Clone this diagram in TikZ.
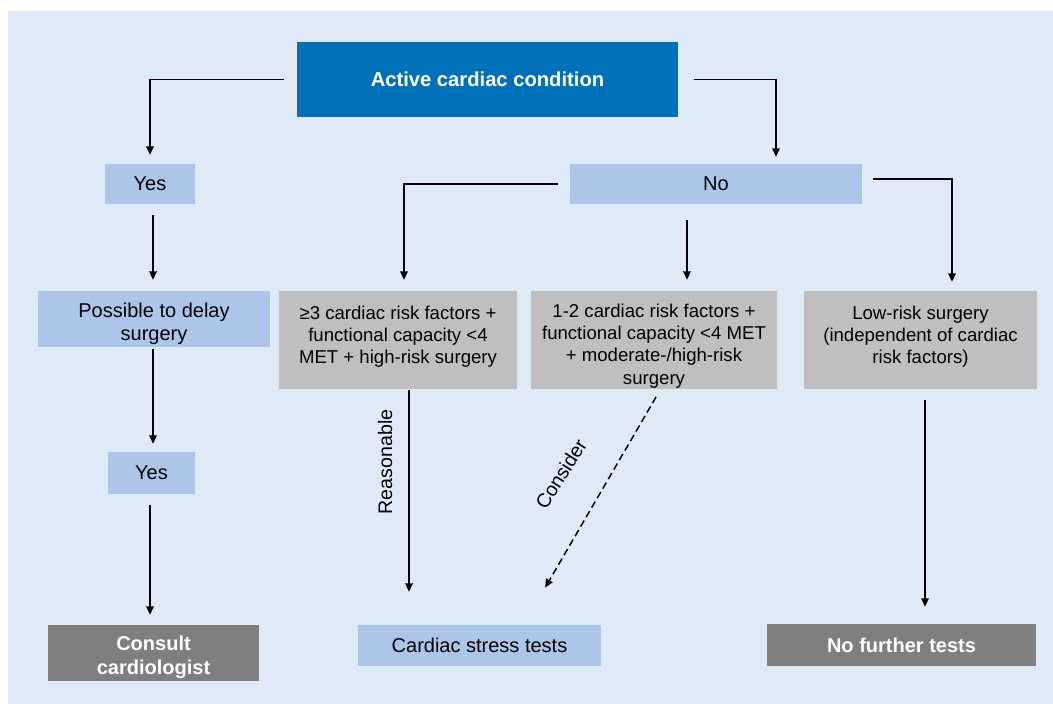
\documentclass[tikz,border=0pt]{standalone}
\usepackage{fontspec}
\setmainfont{Liberation Sans}
\usetikzlibrary{arrows.meta}

\definecolor{panel}{RGB}{222,234,247}
\definecolor{headblue}{RGB}{0,112,184}
\definecolor{paleblue}{RGB}{173,197,233}
\definecolor{midgrey}{RGB}{191,191,191}
\definecolor{darkgrey}{RGB}{127,127,127}

% tall first line: pushes the text of a box a little lower
\newcommand{\firstline}[1]{\rule{0pt}{#1}}

\begin{document}
\begin{tikzpicture}[x=1pt,y=-1pt,
  box/.style={inner sep=0pt, align=center, font=\fontsize{20}{22.5}\selectfont},
  headbox/.style={box, fill=headblue, text=white, font=\fontsize{20.2}{23}\selectfont\bfseries},
  lightbox/.style={box, fill=paleblue},
  greybox/.style={box, fill=midgrey, minimum height=98pt, font=\fontsize{18.6}{22.3}\selectfont},
  endbox/.style={box, fill=darkgrey, text=white, font=\fontsize{20}{24}\selectfont\bfseries},
  lbl/.style={inner sep=0pt, font=\fontsize{19.6}{22.5}\selectfont},
  flow/.style={line width=1.5pt, -{Triangle[length=8.5pt,width=7.5pt]}},
  maybe/.style={flow, dash pattern=on 7pt off 4pt}]

\useasboundingbox (0,0) rectangle (1053,704);
\fill[panel] (8,11) rectangle (1053,704);

% boxes
\node[headbox, minimum width=381pt, minimum height=75pt] (act) at (487.5,79.5) {Active cardiac condition};
\node[lightbox, minimum width=90pt, minimum height=40pt] (yes1) at (150,184) {Yes};
\node[lightbox, minimum width=292pt, minimum height=40pt] (no) at (716,184) {No};
\node[lightbox, minimum width=232pt, minimum height=56pt, font=\fontsize{20}{23.5}\selectfont] (poss) at (154,319) {\firstline{24pt}Possible to delay\\surgery};
\node[greybox, minimum width=238pt] (riskA) at (398,340) {\firstline{25pt}≥3 cardiac risk factors +\\functional capacity <4\\MET + high-risk surgery\\\mbox{}};
\node[greybox, minimum width=246pt] (riskB) at (654,340) {\firstline{25pt}1-2 cardiac risk factors +\\functional capacity <4 MET\\+ moderate-/high-risk\\surgery};
\node[greybox, minimum width=233pt] (riskC) at (920.5,340) {\firstline{25pt}Low-risk surgery\\(independent of cardiac\\risk factors)\\\mbox{}};
\node[lightbox, minimum width=87pt, minimum height=42pt] (yes2) at (151.5,473) {Yes};
\node[endbox, minimum width=211pt, minimum height=56pt] (consult) at (153.5,653) {\firstline{24pt}Consult\\cardiologist};
\node[lightbox, minimum width=243pt, minimum height=41pt] (stress) at (479.5,645.5) {Cardiac stress tests};
\node[endbox, minimum width=269pt, minimum height=42pt] (nomore) at (901.5,645) {No further tests};

% connectors from the top decision
\draw[flow, shorten <=13pt, shorten >=9pt] (act.west) -| (yes1.north);
\draw[flow, shorten <=16pt, shorten >=7pt] (act.east) -| ([xshift=60pt]no.north);

% branches of "No"
\draw[flow, shorten <=12pt, shorten >=11pt] (no.west) -| ([xshift=6pt]riskA.north);
\draw[flow, shorten <=16pt, shorten >=11pt] ([xshift=-29pt]no.south) -- ([xshift=-29pt]no.south |- riskB.north);
\draw[flow, shorten <=11pt, shorten >=9pt] ([yshift=5pt]no.east) -| ([xshift=31.5pt]riskC.north);

% left column
\draw[flow, shorten <=11pt, shorten >=11pt] ([xshift=3pt]yes1.south) -- ([xshift=3pt]yes1.south |- poss.north);
\draw[flow, shorten <=2pt, shorten >=8pt] ([xshift=-1pt]poss.south) -- ([xshift=-1pt]poss.south |- yes2.north);
\draw[flow, shorten <=11pt, shorten >=10pt] ([xshift=-1.5pt]yes2.south) -- ([xshift=-1.5pt]yes2.south |- consult.north);

% to the tests
\draw[flow, shorten <=1pt, shorten >=33pt] ([xshift=11pt]riskA.south) -- ([xshift=11pt]riskA.south |- stress.north);
\draw[maybe, shorten <=9pt, shorten >=43pt] ([xshift=6.6pt]riskB.south) -- ([xshift=44pt]stress.north);
\draw[flow, shorten <=11pt, shorten >=17pt] ([xshift=4.5pt]riskC.south) -- ([xshift=4.5pt]riskC.south |- nomore.north);

% connector labels
\node[lbl, rotate=90] (reasonable) at (385,462) {Reasonable};
\node[lbl, rotate=58] (consider) at (561,474) {Consider};
\end{tikzpicture}
\end{document}
